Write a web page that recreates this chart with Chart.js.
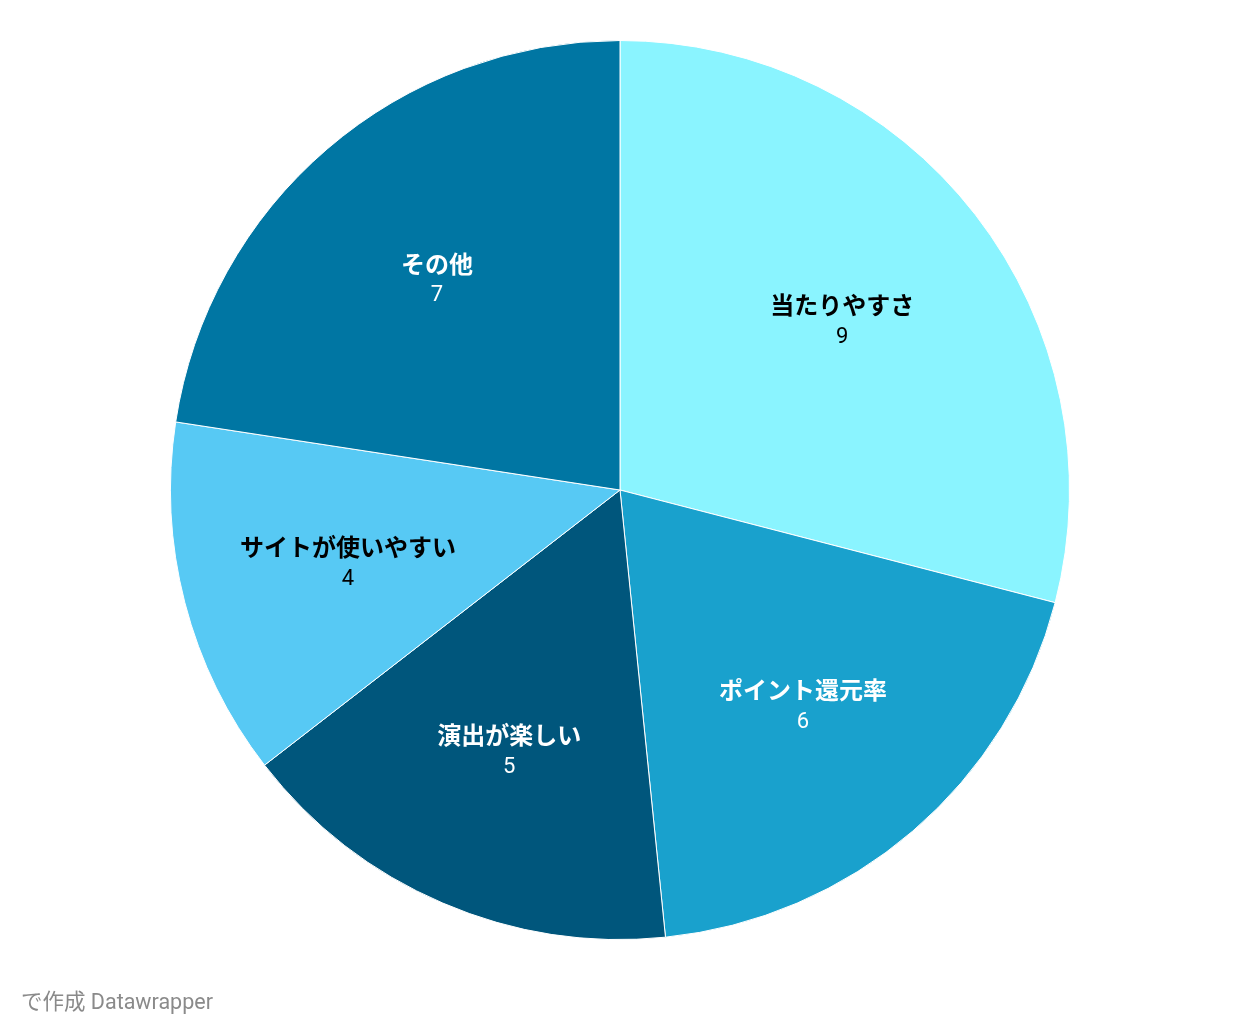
<!DOCTYPE html>
<html lang="ja">
<head>
<meta charset="utf-8">
<script src="https://cdn.jsdelivr.net/npm/chart.js@4"></script>
<style>
  html, body { margin: 0; padding: 0; background: #fff; }
  #wrap { position: relative; width: 1240px; height: 1032px; }
  #credit { position: absolute; left: 21px; top: 984px; font: 21.5px Roboto, "Noto Sans CJK JP", sans-serif; color: #8a8a8a; }
</style>
</head>
<body>
<div id="wrap">
  <canvas id="pie" width="1240" height="1032"></canvas>
  <div id="credit">で作成 Datawrapper</div>
</div>
<script>
const categories = ["当たりやすさ", "ポイント還元率", "演出が楽しい", "サイトが使いやすい", "その他"];
const values = [9, 6, 5, 4, 7];
const sliceColors = ["#8af4ff", "#19a1cd", "#00567c", "#57c9f4", "#0076a3"];
const labelColors = ["#000", "#fff", "#fff", "#000", "#fff"];

// ラベル（名前 + 値）を各スライスの中に描く
const sliceLabels = {
  id: "sliceLabels",
  afterDatasetsDraw(chart) {
    const ctx = chart.ctx;
    const meta = chart.getDatasetMeta(0);
    meta.data.forEach((arc, i) => {
      const p = arc.getProps(["x", "y", "startAngle", "endAngle", "outerRadius"], true);
      const mid = (p.startAngle + p.endAngle) / 2;
      const r = p.outerRadius * 0.625;
      const x = p.x + Math.cos(mid) * r;
      const y = p.y + Math.sin(mid) * r;
      ctx.save();
      ctx.fillStyle = labelColors[i];
      ctx.textAlign = "center";
      ctx.textBaseline = "middle";
      ctx.font = "bold 24px Roboto, 'Noto Sans CJK JP', sans-serif";
      ctx.fillText(categories[i], x, y - 10);
      ctx.font = "22px Roboto, 'Noto Sans CJK JP', sans-serif";
      ctx.fillText(String(values[i]), x, y + 19);
      ctx.restore();
    });
  }
};

new Chart(document.getElementById("pie"), {
  type: "pie",
  data: {
    labels: categories,
    datasets: [{ data: values, backgroundColor: sliceColors, borderColor: "#fff", borderWidth: 1 }]
  },
  options: {
    responsive: false,
    animation: false,
    devicePixelRatio: 1,
    layout: { padding: { top: 40, bottom: 92 } },
    plugins: { legend: { display: false }, tooltip: { enabled: false } }
  },
  plugins: [sliceLabels]
});
</script>
</body>
</html>
